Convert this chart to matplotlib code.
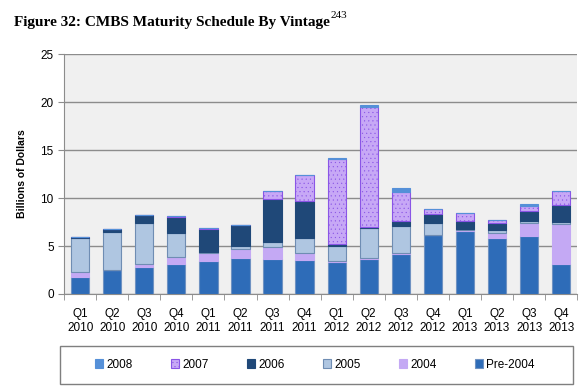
import matplotlib
matplotlib.use("Agg")
import matplotlib.pyplot as plt
from matplotlib.patches import Rectangle
import numpy as np

quarters = ["Q1\n2010", "Q2\n2010", "Q3\n2010", "Q4\n2010",
            "Q1\n2011", "Q2\n2011", "Q3\n2011", "Q4\n2011",
            "Q1\n2012", "Q2\n2012", "Q3\n2012", "Q4\n2012",
            "Q1\n2013", "Q2\n2013", "Q3\n2013", "Q4\n2013"]

pre2004 = [1.80, 2.45, 2.78, 3.12, 3.47, 3.72, 3.65, 3.54, 3.30, 3.65, 4.22, 6.10, 6.55, 5.83, 6.04, 3.12]
v2004   = [0.50, 0.10, 0.30, 0.77, 0.77, 0.93, 1.28, 0.70, 0.10, 0.13, 0.10, 0.05, 0.10, 0.50, 1.32, 4.20]
v2005   = [3.55, 3.95, 4.35, 2.43, 0.13, 0.38, 0.52, 1.56, 1.60, 3.13, 2.73, 1.25, 0.10, 0.30, 0.24, 0.17]
v2006   = [0.05, 0.25, 0.80, 1.74, 2.43, 2.12, 4.48, 3.85, 0.20, 0.03, 0.52, 0.97, 0.85, 0.77, 1.08, 1.80]
v2007   = [0.03, 0.02, 0.03, 0.10, 0.07, 0.02, 0.80, 2.71, 8.86, 12.57, 3.06, 0.45, 0.80, 0.27, 0.52, 1.43]
v2008   = [0.00, 0.00, 0.00, 0.00, 0.00, 0.00, 0.00, 0.00, 0.10, 0.18, 0.41, 0.08, 0.08, 0.00, 0.20, 0.00]

series = [
    ("Pre-2004", pre2004, "#2E6CB8", "#6F92C2", None),
    ("2004", v2004, "#C4A9F4", "#C4A9F4", None),
    ("2005", v2005, "#AFC6E1", "#6F8DB3", None),
    ("2006", v2006, "#1F4878", "#1F4878", None),
    ("2007", v2007, "#C7A8F6", "#8A55E6", "...."),
    ("2008", v2008, "#5590D8", "#5590D8", None),
]

plt.rcParams['hatch.color'] = '#BD9EF3'
plt.rcParams['hatch.linewidth'] = 0.3

fig = plt.figure(figsize=(5.83, 3.92), dpi=100)
ax = fig.add_axes([0.110, 0.250, 0.880, 0.612])
ax.set_facecolor("#F0F0F0")

x = np.arange(len(quarters))
bottom = np.zeros(len(quarters))
handles = {}
for name, vals, fc, ec, hatch in series:
    vals = np.array(vals)
    b = ax.bar(x, vals, 0.57, bottom=bottom, color=fc, edgecolor=ec,
               linewidth=0.8, hatch=hatch, zorder=3, label=name)
    handles[name] = b
    bottom += vals

ax.set_ylim(0, 25)
ax.set_xlim(-0.5, len(quarters) - 0.5)
ax.set_yticks(range(0, 26, 5))
ax.yaxis.grid(True, color="#8C8C8C", linewidth=1.0, zorder=0)
ax.set_axisbelow(True)
ax.set_xticks(x)
ax.set_xticklabels(quarters, fontsize=8.5, family="Liberation Sans", linespacing=1.25)
ax.set_xticks(np.arange(-0.5, len(quarters), 1), minor=True)
ax.tick_params(axis="x", which="major", length=0, pad=10)
ax.tick_params(axis="x", which="minor", length=4, color="#8C8C8C")
ax.tick_params(axis="y", length=4, color="#8C8C8C", labelsize=8.5)
for lab in ax.get_yticklabels():
    lab.set_family("Liberation Sans")
for s in ["top", "right"]:
    ax.spines[s].set_visible(False)
ax.spines["left"].set_color("#8C8C8C")
ax.spines["bottom"].set_color("#8C8C8C")
ax.set_ylabel("Billions of Dollars", fontsize=7.5, fontweight="bold",
              family="Liberation Sans", labelpad=10)

# legend frame
fig.patches.append(Rectangle((0.103, 0.021), 0.880, 0.097, transform=fig.transFigure,
                             facecolor="none", edgecolor="#7F7F7F", linewidth=1.0))

order = ["2008", "2007", "2006", "2005", "2004", "Pre-2004"]
leg = fig.legend([handles[n] for n in order], order, loc="center",
                 bbox_to_anchor=(0.540, 0.070), ncol=6, frameon=False,
                 handlelength=0.7, handleheight=0.7, handletextpad=0.3,
                 columnspacing=3.2,
                 prop={"family": "Liberation Sans", "size": 8.5})

title = fig.text(0.024, 0.942, "Figure 32: CMBS Maturity Schedule By Vintage",
                 fontsize=11, fontweight="bold", family="Liberation Serif",
                 ha="left", va="center")
ax.annotate("243", xy=(1.0, 0.7), xycoords=title, xytext=(0.5, 0),
            textcoords="offset points", fontsize=8, family="Liberation Serif",
            ha="left", va="bottom", annotation_clip=False)

fig.savefig("out.png", dpi=100)
